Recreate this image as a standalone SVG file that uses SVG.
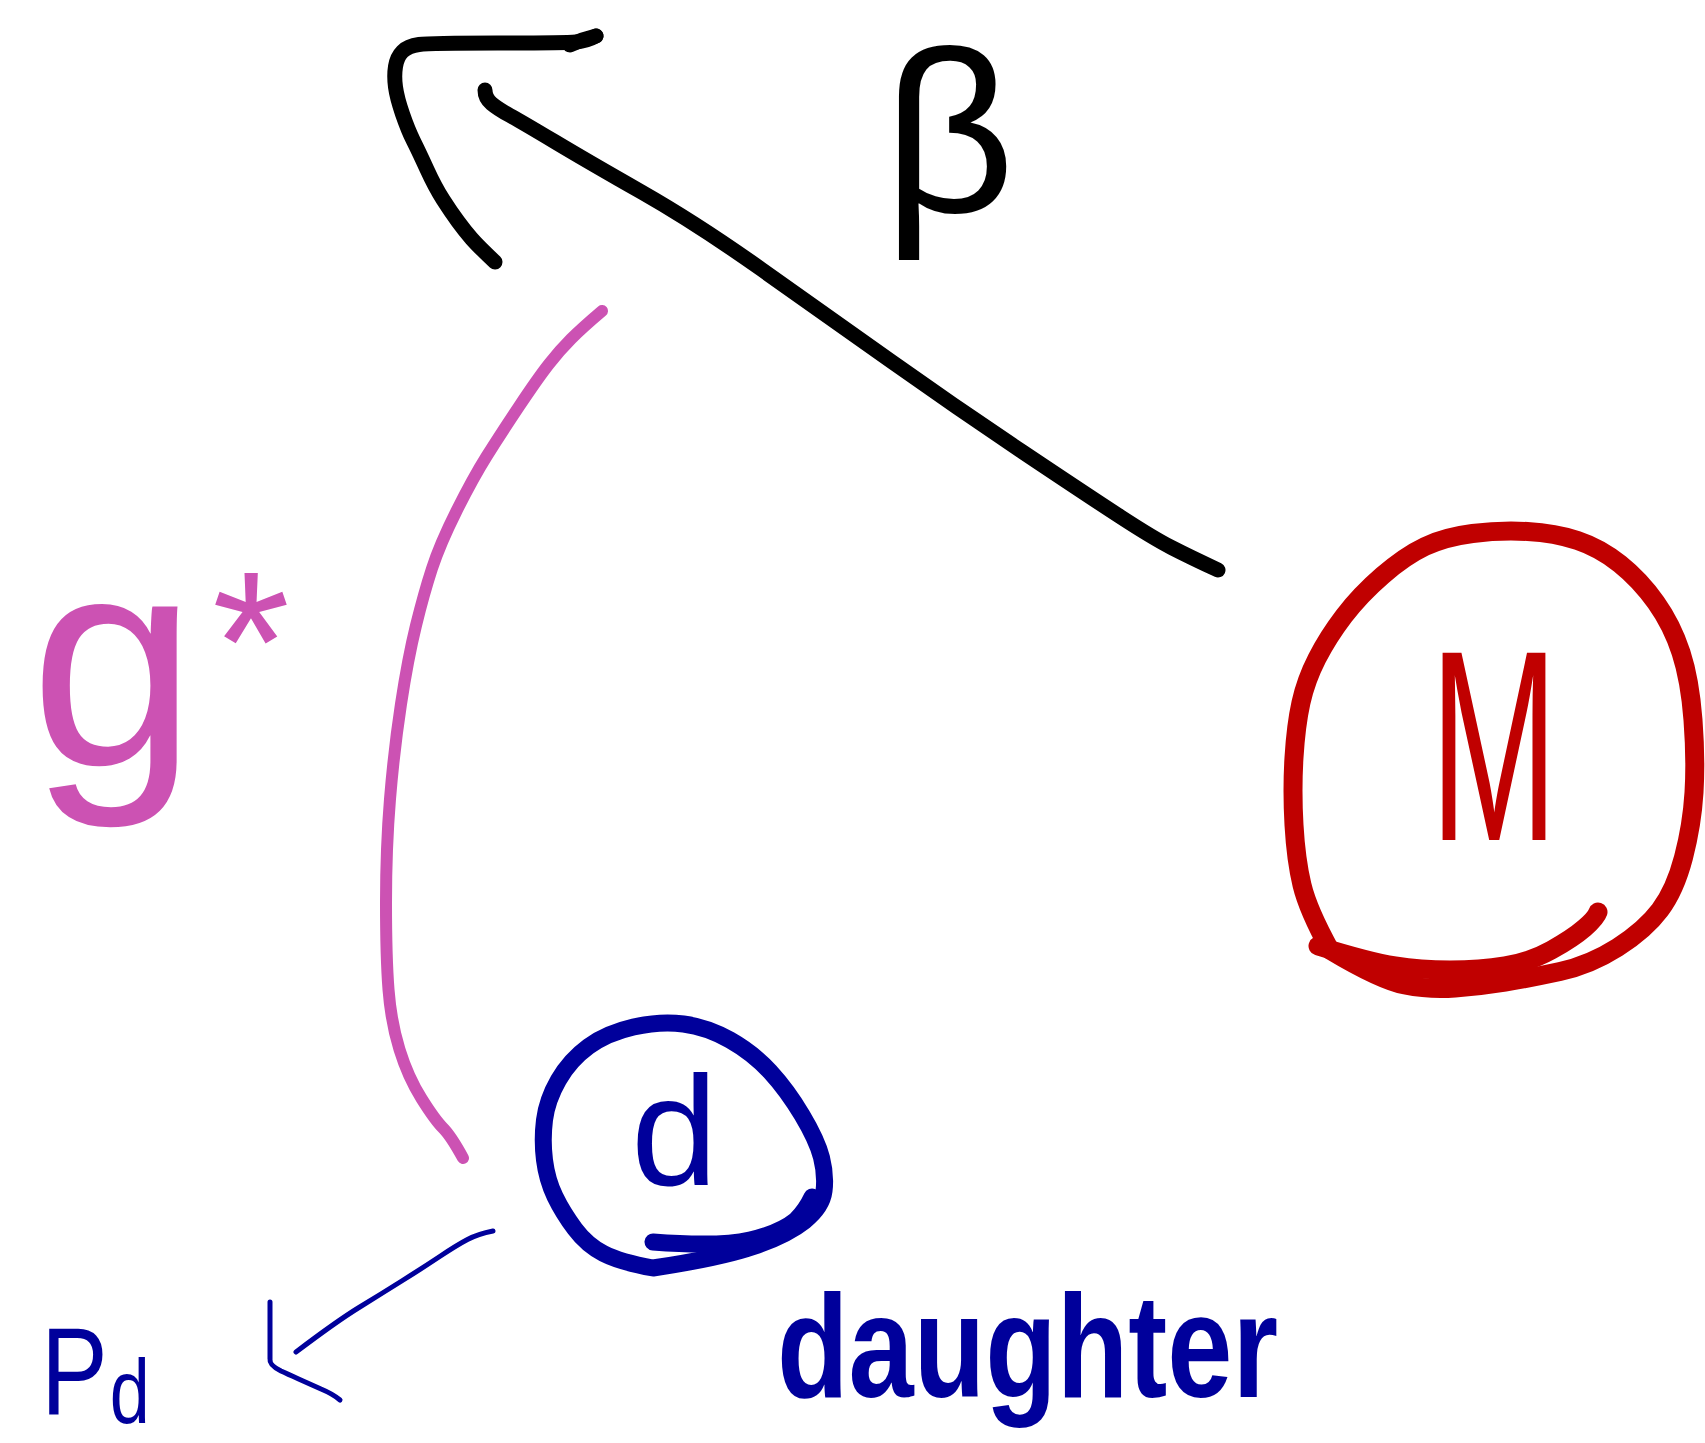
<svg xmlns="http://www.w3.org/2000/svg" width="1705" height="1443" viewBox="0 0 1705 1443">
<style>
.s{fill:none;stroke-linecap:round;stroke-linejoin:round}
.k{stroke:#000;stroke-width:15}
.p{stroke:#cc52b3;stroke-width:12}
.r{stroke:#c00000;stroke-width:19}
.b{stroke:#00009b;stroke-width:17}
.bt{stroke:#00009b;stroke-width:5}
.t{font-family:"Liberation Sans",Arial,sans-serif}
</style>
<rect width="1705" height="1443" fill="#fff"/>
<g id="connectors">
<path class="s k" d="M1218,570 Q1190,557 1171.5,547.5 Q1153,538 1120,516.5 Q1087,495 1022,451.5 Q957,408 891.5,361.5 Q826,315 761,269 Q696,223 641.5,192 Q587,161 554.5,141.5 Q522,122 510,115.5 Q498,109 491.5,103.5 Q485,98 485,90"/>
<path class="s k" d="M495,262 Q478,246 471.5,238.5 Q465,231 458,221.5 Q451,212 443,199.5 Q435,187 427,169.5 Q419,152 413.5,141 Q408,130 402.5,114 Q397,98 395.5,87 Q394,76 395.5,66.5 Q397,57 402.5,51.5 Q408,46 419,44.5 Q430,43 497.5,43 Q565,43 576,42 Q587,41 596,36"/>
<path class="s k" d="M570,45 Q583,39 596,36"/>
<path class="s p" d="M602,311 Q582,328 571,339 Q560,350 549,364 Q538,378 519,406.5 Q500,435 486.5,456.5 Q473,478 456.5,511 Q440,544 432,568.5 Q424,593 416,625.5 Q408,658 401,704 Q394,750 390,799 Q386,848 386,902.5 Q386,957 388.5,989.5 Q391,1022 399.5,1049.5 Q408,1077 421.5,1098.5 Q435,1120 443,1128 Q451,1136 463,1158"/>
<path class="s bt" d="M493,1231 Q478,1234 467.5,1239.5 Q457,1245 440.5,1256 Q424,1267 402.5,1280.5 Q381,1294 359,1307.5 Q337,1321 296,1352"/>
<path class="s bt" d="M270,1302 L270,1359 Q269,1365 281,1371 Q294,1377 321,1389 Q333,1394 340,1400"/>
</g>
<g id="node-M">
<path class="s r" d="M1330,950 Q1380,980 1405,985 Q1430,990 1455,988 Q1480,986 1505,982 Q1530,978 1560,971.5 Q1590,965 1617.5,947.5 Q1645,930 1660,910 Q1675,890 1683.5,857.5 Q1692,825 1694,792.5 Q1696,760 1693,720 Q1690,680 1681,652.5 Q1672,625 1656,602.5 Q1640,580 1620,564 Q1600,548 1577.5,540.5 Q1555,533 1527.5,531.5 Q1500,530 1472.5,533.5 Q1445,537 1425,546.5 Q1405,556 1382.5,575.5 Q1360,595 1344,616 Q1328,637 1317,658.5 Q1306,680 1301,702.5 Q1296,725 1294,757.5 Q1292,790 1294,825 Q1296,860 1302,885 Q1308,910 1330,950"/>
<path class="s r" d="M1318,946 Q1370,962 1395,966 Q1420,970 1450,970 Q1480,970 1505,966 Q1530,962 1551.5,950 Q1573,938 1584.5,928 Q1596,918 1598,912"/>
<text class="t" x="1430" y="840" font-size="272" textLength="128" lengthAdjust="spacingAndGlyphs" fill="#c00000">M</text>
</g>
<g id="node-d">
<path class="s b" d="M653,1268 Q720,1258 753.5,1246.5 Q787,1235 804.5,1221 Q822,1207 824,1191 Q826,1175 821.5,1157.5 Q817,1140 802,1115 Q787,1090 770,1071.5 Q753,1053 730,1040 Q707,1027 683.5,1024 Q660,1021 633.5,1027 Q607,1033 588.5,1046.5 Q570,1060 558.5,1080 Q547,1100 544.5,1120 Q542,1140 544.5,1160 Q547,1180 555,1196.5 Q563,1213 575,1229 Q587,1245 603.5,1253.5 Q620,1262 653,1268"/>
<path class="s b" d="M653,1242 Q720,1247 750,1240 Q780,1233 796,1220 Q806,1210 812,1197"/>
<text class="t" x="631" y="1185" font-size="156" fill="#00009b">d</text>
</g>
<g id="label-beta">
<text class="t" x="883" y="212" font-size="230" fill="#000">β</text>
</g>
<g id="label-gstar">
<text class="t" x="30" y="765" font-size="300" fill="#cc52b3">g<tspan x="212" dy="-54" font-size="200">*</tspan></text>
</g>
<g id="label-Pd">
<text class="t" transform="translate(41,1414) scale(0.8,1)" x="0" y="0" font-size="125" fill="#00009b">P<tspan x="86" dy="9" font-size="90">d</tspan></text>
</g>
<g id="label-daughter">
<text class="t" x="777" y="1397" font-size="147" font-weight="bold" textLength="501" lengthAdjust="spacingAndGlyphs" fill="#00009b">daughter</text>
</g>
</svg>
